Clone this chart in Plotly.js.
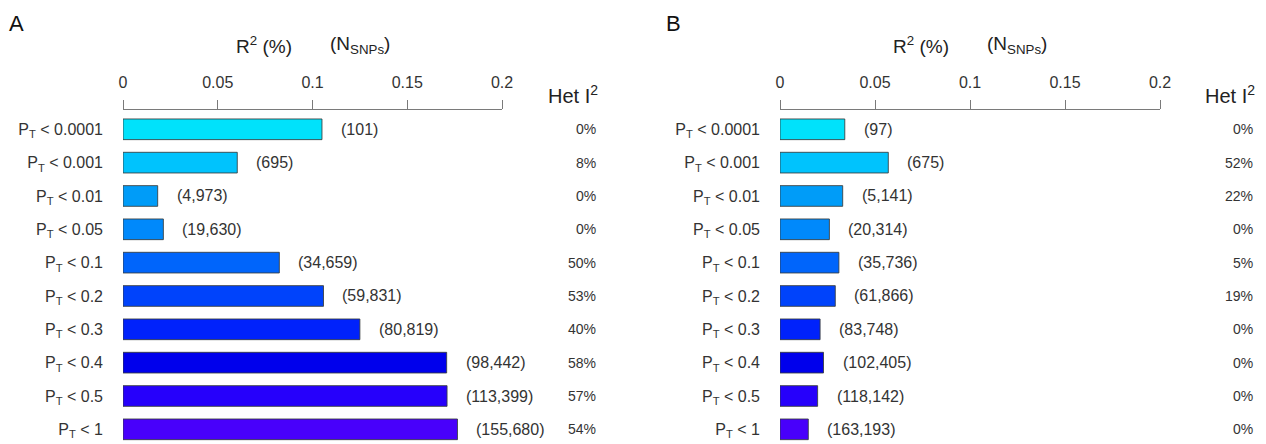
<!DOCTYPE html>
<html>
<head>
<meta charset="utf-8">
<script src="https://cdn.plot.ly/plotly-3.0.1.min.js"></script>
<style>html,body{margin:0;padding:0;background:#fff;}#chart{width:1266px;height:444px;}</style>
</head>
<body>
<div id="chart"></div>
<script>
// Thresholds (P_T)
const thresholds = ['0.0001','0.001','0.01','0.05','0.1','0.2','0.3','0.4','0.5','1'];
// Panel A
const r2A = [0.105, 0.0603, 0.0183, 0.0213, 0.0825, 0.1058, 0.125, 0.1708, 0.171, 0.1765];
const nA = ['(101)','(695)','(4,973)','(19,630)','(34,659)','(59,831)','(80,819)','(98,442)','(113,399)','(155,680)'];
const hetA = ['0%','8%','0%','0%','50%','53%','40%','58%','57%','54%'];
// Panel B
const r2B = [0.0341, 0.057, 0.033, 0.026, 0.031, 0.0291, 0.0211, 0.0229, 0.0198, 0.0149];
const nB = ['(97)','(675)','(5,141)','(20,314)','(35,736)','(61,866)','(83,748)','(102,405)','(118,142)','(163,193)'];
const hetB = ['0%','52%','22%','0%','5%','19%','0%','0%','0%','0%'];
const tickVals = [0, 0.05, 0.1, 0.15, 0.2];
const tickText = ['0','0.05','0.1','0.15','0.2'];
const barColors = ['#00e2fb','#00c3fd','#009cf8','#0089fb','#0065fb','#0043fb','#0022fb','#0000ec','#2600fb','#4800fb'];

const labels = thresholds.map(t => 'P<sub>T</sub> &lt; ' + t);
const FONT = 'Liberation Sans, Arial, sans-serif';
const H = 444, W = 1266;

function barTrace(vals, xa, ya) {
  return {
    type: 'bar', orientation: 'h', x: vals, y: labels, xaxis: xa, yaxis: ya,
    width: 0.62,
    marker: {color: barColors, line: {color: 'rgba(55,60,60,0.85)', width: 1}},
    hoverinfo: 'skip', showlegend: false
  };
}

const data = [barTrace(r2A, 'x', 'y'), barTrace(r2B, 'x2', 'y2')];

function xAxis(dom, anchor) {
  return {
    domain: dom, anchor: anchor, side: 'top', range: [0, 0.2],
    tickmode: 'array', tickvals: tickVals, ticktext: tickText,
    showline: true, linecolor: '#7a7a7a', linewidth: 1,
    ticks: 'outside', ticklen: 9, tickcolor: '#7a7a7a', tickwidth: 1,
    showgrid: false, zeroline: false, fixedrange: true,
    tickfont: {family: FONT, size: 16, color: '#333'}, ticklabelstandoff: 5
  };
}
function yAxis(anchor) {
  return {
    domain: [0, (H - 109.5) / H], anchor: anchor, type: 'category',
    categoryorder: 'array', categoryarray: labels,
    range: [9.44, -0.594], showline: false, showgrid: false, zeroline: false,
    ticks: '', ticklabelstandoff: 19, fixedrange: true,
    tickfont: {family: FONT, size: 16, color: '#333'}
  };
}

const annotations = [];
// row centre in paper coords
function rowY(i) { return 1 - (129.3 + 33.33 * i) / H; }
function panelAnn(xref, yref, vals, nLab, het, hetRight, letterX, letter) {
  vals.forEach((v, i) => {
    annotations.push({xref: xref, yref: yref, x: v, y: labels[i], text: nLab[i],
      xanchor: 'left', yanchor: 'middle', xshift: 17, showarrow: false,
      font: {family: FONT, size: 16, color: '#333'}});
    annotations.push({xref: 'paper', yref: 'paper', x: hetRight / W, y: rowY(i), text: het[i],
      xanchor: 'right', yanchor: 'middle', showarrow: false,
      font: {family: FONT, size: 14, color: '#333'}});
  });
  annotations.push({xref: xref, yref: 'paper', x: 0.0742, y: 1 - 45 / H, text: 'R<sup>2</sup> (%)',
    xanchor: 'center', yanchor: 'middle', showarrow: false, font: {family: FONT, size: 19, color: '#222'}});
  annotations.push({xref: xref, yref: 'paper', x: 0.1248, y: 1 - 45 / H, text: '(N<sub>SNPs</sub>)',
    xanchor: 'center', yanchor: 'middle', showarrow: false, font: {family: FONT, size: 19, color: '#222'}});
  annotations.push({xref: 'paper', yref: 'paper', x: (hetRight + 2) / W, y: 1 - 94 / H, text: 'Het I<sup>2</sup>',
    xanchor: 'right', yanchor: 'middle', showarrow: false, font: {family: FONT, size: 20, color: '#222'}});
  annotations.push({xref: 'paper', yref: 'paper', x: letterX / W, y: 1 - 23 / H, text: letter,
    xanchor: 'left', yanchor: 'middle', showarrow: false, font: {family: FONT, size: 22, color: '#111'}});
}
panelAnn('x', 'y', r2A, nA, hetA, 598, 7, 'A');
panelAnn('x2', 'y2', r2B, nB, hetB, 1255, 664, 'B');

const layout = {
  width: W, height: H,
  margin: {l: 0, r: 0, t: 0, b: 0},
  paper_bgcolor: '#fff', plot_bgcolor: '#fff',
  xaxis: xAxis([123 / W, 502 / W], 'y'),
  yaxis: yAxis('x'),
  xaxis2: xAxis([780 / W, 1160 / W], 'y2'),
  yaxis2: yAxis('x2'),
  bargap: 0.38,
  annotations: annotations,
  font: {family: FONT}
};

Plotly.newPlot('chart', data, layout, {displayModeBar: false, staticPlot: true});
</script>
</body>
</html>
